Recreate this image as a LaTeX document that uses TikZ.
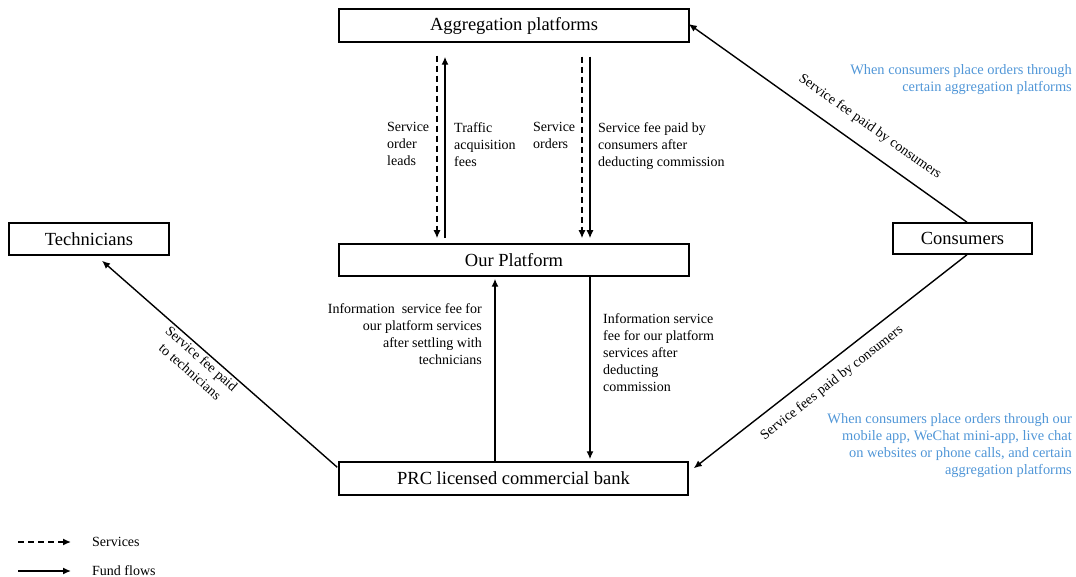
\documentclass[tikz,border=0pt]{standalone}
\usepackage{fontspec}
\setmainfont{Liberation Serif}
\usetikzlibrary{arrows.meta}
\definecolor{noteblue}{RGB}{80,150,215}
\begin{document}
\begin{tikzpicture}[x=1pt,y=-1pt,
  box/.style={draw, line width=1.5pt, inner sep=0pt, font=\fontsize{18.5}{22}\selectfont},
  lbl/.style={inner sep=0pt, font=\fontsize{14}{17.2}\selectfont},
  fund/.style={line width=1.4pt, -{Latex[length=8pt,width=7pt]}},
  svc/.style={fund, dash pattern=on 6pt off 4pt},
  note/.style={inner sep=0pt, font=\fontsize{14.4}{17}\selectfont, text=noteblue, align=right}]
\useasboundingbox (0,0) rectangle (1076,577);

% entities
\node[box, minimum width=350pt, minimum height=33pt] (agg)  at (514,25.5)  {Aggregation platforms};
\node[box, minimum width=350pt, minimum height=32pt] (ours) at (514,260)   {Our Platform};
\node[box, minimum width=160pt, minimum height=32pt] (tech) at (89,239)    {Technicians};
\node[box, minimum width=139pt, minimum height=31pt] (cons) at (962.5,238.5) {Consumers};
\node[box, minimum width=349pt, minimum height=33pt] (bank) at (513.5,478.5) {PRC licensed commercial bank};

% flows between the aggregation platforms and our platform
\draw[svc]  ([xshift=-77pt,yshift=-13pt]agg.south) -- ([xshift=-77pt,yshift=5pt]ours.north);
\draw[fund] ([xshift=-69pt,yshift=5pt]ours.north) -- ([xshift=-69pt,yshift=-14pt]agg.south);
\draw[svc]  ([xshift=68pt,yshift=-14pt]agg.south) -- ([xshift=68pt,yshift=5pt]ours.north);
\draw[fund] ([xshift=76pt,yshift=-14pt]agg.south) -- ([xshift=76pt,yshift=5pt]ours.north);

\node[lbl, anchor=north west, align=left] (l1) at (387,122) {Service\\order\\leads};
\node[lbl, anchor=north west, align=left] (l2) at (454,122) {Traffic\\acquisition\\fees};
\node[lbl, anchor=north west, align=left] (l3) at (533,122) {Service\\orders};
\node[lbl, anchor=north west, align=left] (l4) at (598,122) {Service fee paid by\\consumers after\\deducting commission};

% flows between the bank and our platform
\draw[fund] ([xshift=-18.5pt]bank.north) -- ([xshift=-19pt,yshift=-2pt]ours.south);
\draw[fund] ([xshift=76pt]ours.south) -- ([xshift=76.5pt,yshift=2pt]bank.north);

\node[lbl, anchor=north east, align=right] (l5) at (482,303)
  {Information\ \ service fee for\\our platform services\\after settling with\\technicians};
\node[lbl, anchor=north west, align=left] (l6) at (603,313)
  {Information service\\fee for our platform\\services after\\deducting\\commission};

% consumer payments
\draw[fund] ([xshift=4.5pt]cons.north) -- ([xshift=-1pt,yshift=1.5pt]agg.east);
\draw[fund] ([xshift=4.5pt]cons.south) -- ([xshift=5pt,yshift=-7pt]bank.north east);
\node[lbl, rotate=-35.2] (l7) at (870,127) {Service fee paid by consumers};
\node[lbl, rotate=38] (l8) at (832,383) {Service fees paid by consumers};

% settlement with technicians
\draw[fund] ([xshift=-1pt,yshift=-6pt]bank.north west) -- ([xshift=13pt,yshift=-5pt]tech.south);
\node[lbl, rotate=-41.2, align=center] (l9) at (196,365) {Service fee paid\\to technicians};

% ordering channels
\node[note, anchor=north east] (n1) at (1072,64) {When consumers place orders through\\certain aggregation platforms};
\node[note, anchor=north east] (n2) at (1072,413) {When consumers place orders through our\\mobile app, WeChat mini-app, live chat\\on websites or phone calls, and certain\\aggregation platforms};

% legend
\coordinate (ls0) at (18,542);
\coordinate (ls1) at (71,542);
\coordinate (lf0) at (18,571);
\coordinate (lf1) at (71,571);
\draw[svc] (ls0) -- (ls1);
\draw[fund] (lf0) -- (lf1);
\node[lbl, anchor=west, font=\fontsize{14}{16}\selectfont] (t1) at (92,541.5) {Services};
\node[lbl, anchor=west, font=\fontsize{14}{16}\selectfont] (t2) at (92,570.5) {Fund flows};
\end{tikzpicture}
\end{document}
